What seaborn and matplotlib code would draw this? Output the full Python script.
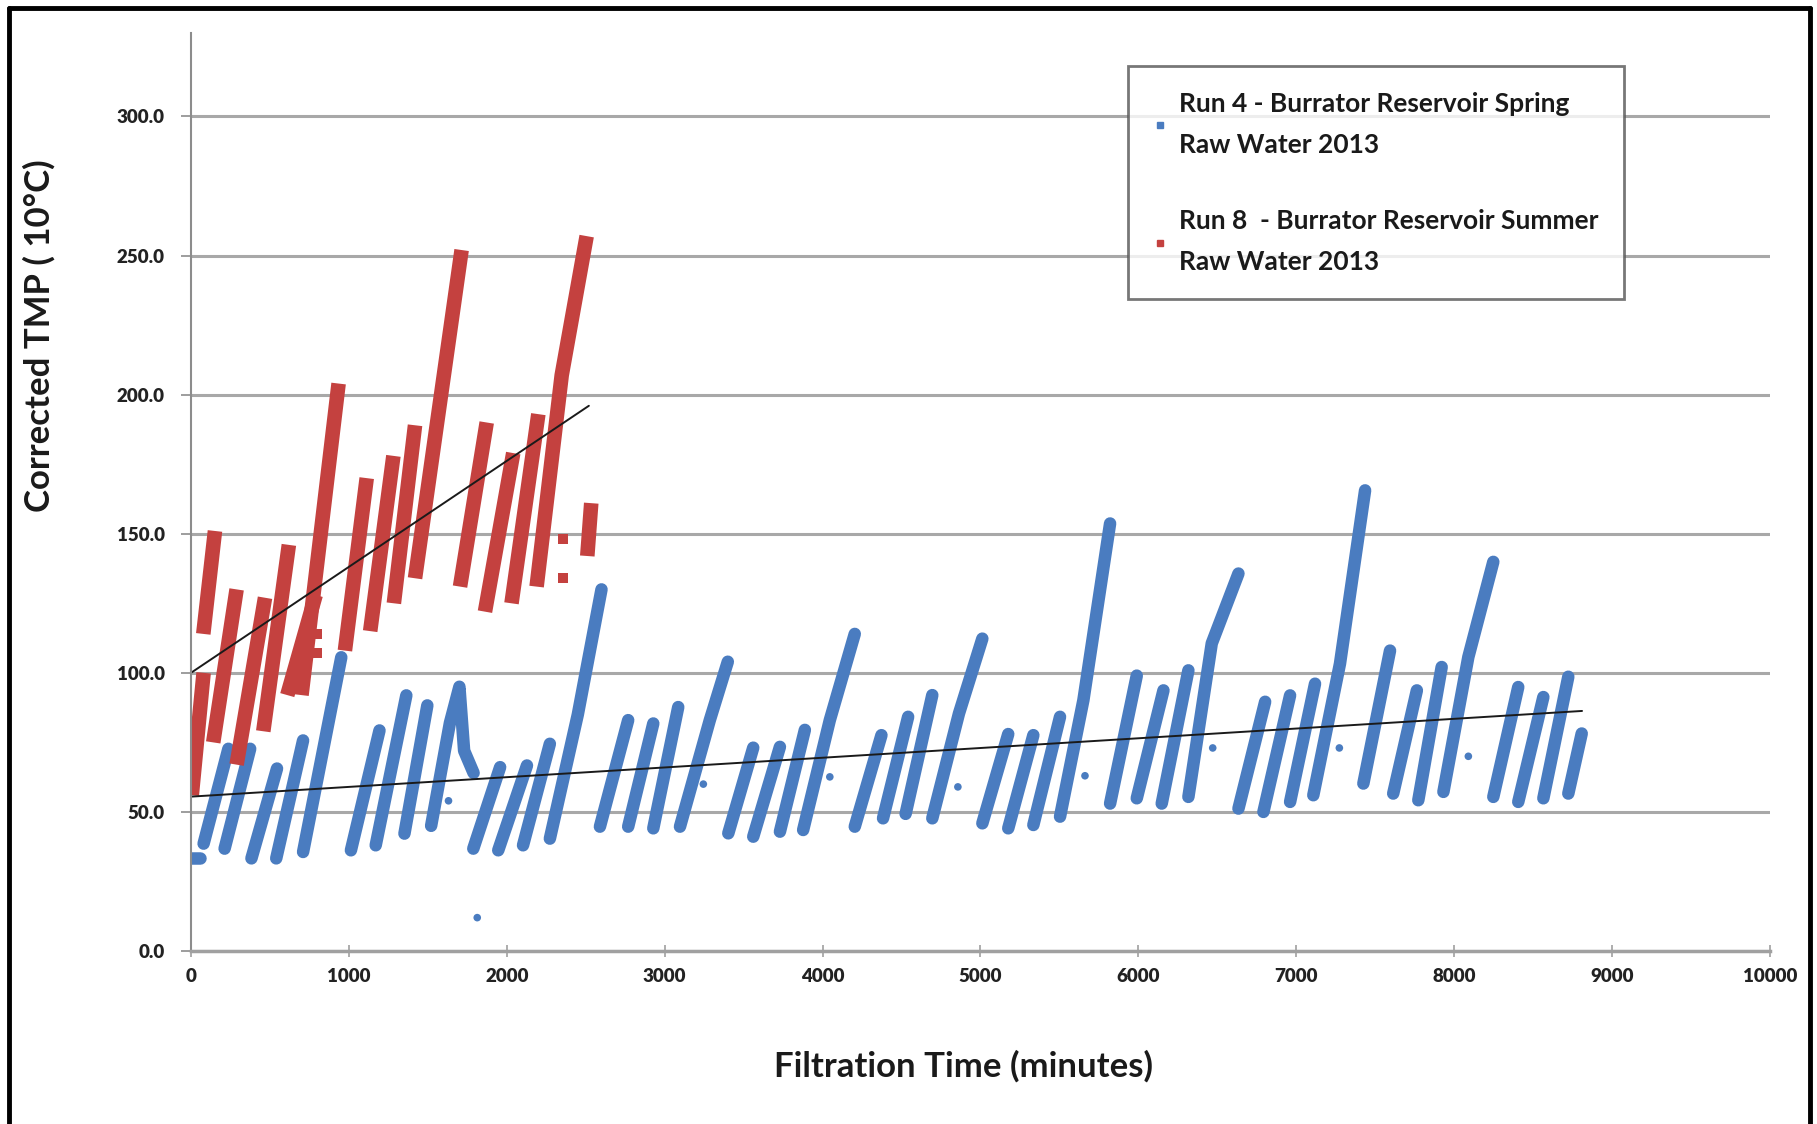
# plot.py - TMP corregida vs tiempo de filtración (Run 4 / Run 8, Burrator 2013)
import pandas as pd
import matplotlib
matplotlib.use("Agg")
import matplotlib.pyplot as plt
import seaborn as sns
from matplotlib.lines import Line2D
from matplotlib.ticker import FormatStrFormatter

# --- Datos: vértices de cada ciclo de filtración ---
# Run 4 (primavera): tiempo (min) y TMP corregida de cada rampa
run4_t = [
    [0, 60], [80, 237], [213, 375], [383, 545], [540, 710], [710, 952],
    [1013, 1194], [1170, 1364], [1352, 1497], [1521, 1640, 1700, 1730, 1790],
    [1788, 1958], [1946, 2128], [2103, 2273], [2273, 2450, 2600],
    [2590, 2769], [2769, 2928], [2928, 3086], [3097, 3286, 3400],
    [3403, 3561], [3561, 3730], [3730, 3888], [3877, 4046, 4204],
    [4204, 4373], [4383, 4542], [4526, 4695], [4695, 4864, 5012],
    [5012, 5176], [5176, 5335], [5335, 5504], [5504, 5652, 5821],
    [5821, 5990], [5990, 6159], [6148, 6317], [6317, 6465, 6634],
    [6634, 6803], [6792, 6961], [6961, 7119], [7108, 7277, 7436],
    [7425, 7594], [7614, 7764], [7773, 7921], [7932, 8090, 8248],
    [8248, 8406], [8406, 8565], [8565, 8723], [8723, 8808],
]
run4_y = [
    [33.5, 33.5], [38.6, 72.7], [36.8, 72.7], [33.3, 65.6], [33.3, 75.7], [35.6, 105.6],
    [36.2, 79.3], [38.0, 91.9], [42.2, 88.3], [45.0, 82.0, 95.0, 72.0, 64.0],
    [36.8, 66.1], [36.2, 66.7], [38.0, 74.5], [40.4, 85.0, 130.0],
    [44.7, 83.0], [44.7, 81.8], [44.1, 87.7], [44.7, 83.0, 104.0],
    [42.3, 73.1], [41.1, 73.4], [42.9, 79.5], [43.5, 83.0, 114.0],
    [44.7, 77.6], [47.7, 84.2], [49.3, 92.0], [47.7, 85.4, 112.3],
    [45.9, 78.0], [44.1, 77.6], [45.3, 84.2], [48.3, 90.2, 153.7],
    [53.0, 99.0], [54.9, 93.7], [53.0, 100.9], [55.4, 110.6, 135.7],
    [51.2, 89.6], [50.0, 91.9], [53.6, 96.1], [56.0, 103.3, 165.6],
    [60.2, 108.0], [56.6, 93.7], [54.2, 102.1], [57.2, 105.7, 139.9],
    [55.4, 94.9], [53.6, 91.3], [54.9, 98.6], [56.6, 78.2],
]
run4_pts_t = [1813, 1631, 3245, 4046, 4857, 5662, 6471, 7273, 8090]
run4_pts_y = [12.0, 54.0, 60.0, 62.6, 59.0, 63.0, 73.0, 73.0, 70.0]

# Run 8 (verano)
run8_t = [
    [5, 80], [78, 152], [141, 289], [289, 469], [458, 620], [610, 790],
    [700, 935], [975, 1113], [1135, 1282], [1285, 1419], [1419, 1714],
    [1704, 1873], [1862, 2041], [2030, 2200], [2189, 2348, 2506], [2510, 2535],
]
run8_y = [
    [56, 100], [114, 151], [75, 130], [67, 127], [79, 146], [92, 128],
    [92, 204], [108, 170], [115, 178], [125, 189], [134, 252],
    [131, 190], [122, 179], [125, 193], [131, 207, 257], [142, 161],
]
run8_pts_t = [2358, 2358, 796, 796]
run8_pts_y = [148.0, 134.0, 114.0, 107.0]

# Líneas de tendencia
trend4_t = [0, 8810]
trend4_y = [55.5, 86.3]
trend8_t = [0, 2520]
trend8_y = [100.0, 196.0]

x_ticks = list(range(0, 10001, 1000))
y_ticks = [0, 50, 100, 150, 200, 250, 300]

labels = ['Run 4 - Burrator Reservoir Spring\nRaw Water 2013',
          'Run 8  - Burrator Reservoir Summer\nRaw Water 2013']

AZUL = '#4a7cc0'
ROJO = '#c4413f'
FUENTE = ['Lato', 'DejaVu Sans']


def ciclos_a_df(ts, ys):
    filas = []
    for i, (tt, yy) in enumerate(zip(ts, ys)):
        for t, y in zip(tt, yy):
            filas.append({'ciclo': i, 't': t, 'y': y})
    return pd.DataFrame(filas)


df4 = ciclos_a_df(run4_t, run4_y)
df8 = ciclos_a_df(run8_t, run8_y)

sns.set_theme(style="white")
plt.rcParams['font.family'] = FUENTE
plt.rcParams['font.weight'] = 'bold'

fig = plt.figure(figsize=(18.17, 11.24), dpi=100)
ax = fig.add_axes([0.1051, 0.1539, 0.869, 0.8167])

ax.set_axisbelow(True)
ax.grid(axis='y', color='#a8a8a8', lw=2.2)

sns.lineplot(data=df4, x='t', y='y', units='ciclo', estimator=None, sort=False,
             color=AZUL, lw=9, solid_capstyle='round', solid_joinstyle='round',
             ax=ax, legend=False)
sns.scatterplot(x=run4_pts_t, y=run4_pts_y, color=AZUL, s=30, edgecolor='none', ax=ax)
sns.lineplot(data=df8, x='t', y='y', units='ciclo', estimator=None, sort=False,
             color=ROJO, lw=10.5, solid_capstyle='butt', ax=ax, legend=False)
sns.scatterplot(x=run8_pts_t, y=run8_pts_y, color=ROJO, s=50, marker='s',
                edgecolor='none', ax=ax)

sns.lineplot(x=trend4_t, y=trend4_y, color='#1a1a1a', lw=1.4, ax=ax)
sns.lineplot(x=trend8_t, y=trend8_y, color='#1a1a1a', lw=1.4, ax=ax)

ax.set_xlim(0, 10000)
ax.set_ylim(0, 330)
ax.set_xticks(x_ticks)
ax.set_yticks(y_ticks)
ax.yaxis.set_major_formatter(FormatStrFormatter('%.1f'))

for lado in ['top', 'right']:
    ax.spines[lado].set_visible(False)
ax.spines['left'].set_color('#8c8c8c')
ax.spines['left'].set_linewidth(1.5)
ax.spines['bottom'].set_color('#a0a0a0')
ax.spines['bottom'].set_linewidth(2.5)

ax.tick_params(axis='y', length=7, width=1.2, color='#8c8c8c', pad=12,
               labelsize=13.5, left=True)
ax.tick_params(axis='x', length=8, width=1.2, color='#a0a0a0', direction='inout',
               pad=8, labelsize=13.5, bottom=True)
for t in ax.get_xticklabels() + ax.get_yticklabels():
    t.set_fontweight('heavy')
    t.set_color('#222222')

ax.set_xlabel('Filtration Time (minutes)', fontsize=25, fontweight='bold', color='#1a1a1a')
ax.set_ylabel('Corrected TMP ( 10°C)', fontsize=25, fontweight='bold', color='#1a1a1a')
ax.xaxis.set_label_coords(0.4895, -0.108)
ax.yaxis.set_label_coords(-0.0855, 0.67)

handles = [Line2D([], [], marker='s', color=AZUL, linestyle='none', markersize=4),
           Line2D([], [], marker='s', color=ROJO, linestyle='none', markersize=4)]
leg = ax.legend(handles, labels, loc='upper left', bbox_to_anchor=(0.585, 0.978),
                frameon=True, fancybox=False, handlelength=0.5,
                handletextpad=0.5, labelspacing=2.0, borderpad=0.95,
                prop={'family': FUENTE, 'weight': 'bold', 'size': 19})
leg.get_frame().set_edgecolor('#555555')
leg.get_frame().set_linewidth(2)
for t in leg.get_texts():
    t.set_linespacing(1.85)
    t.set_color('#1a1a1a')

# Marco negro alrededor de la figura
for xs, ys in [([0.005, 0.005], [0.0, 0.993]), ([0.005, 0.996], [0.993, 0.993]),
               ([0.996, 0.996], [0.0, 0.993])]:
    fig.add_artist(Line2D(xs, ys, color='black', lw=3.5, transform=fig.transFigure))

fig.savefig('out.png', dpi=100, facecolor='white')
